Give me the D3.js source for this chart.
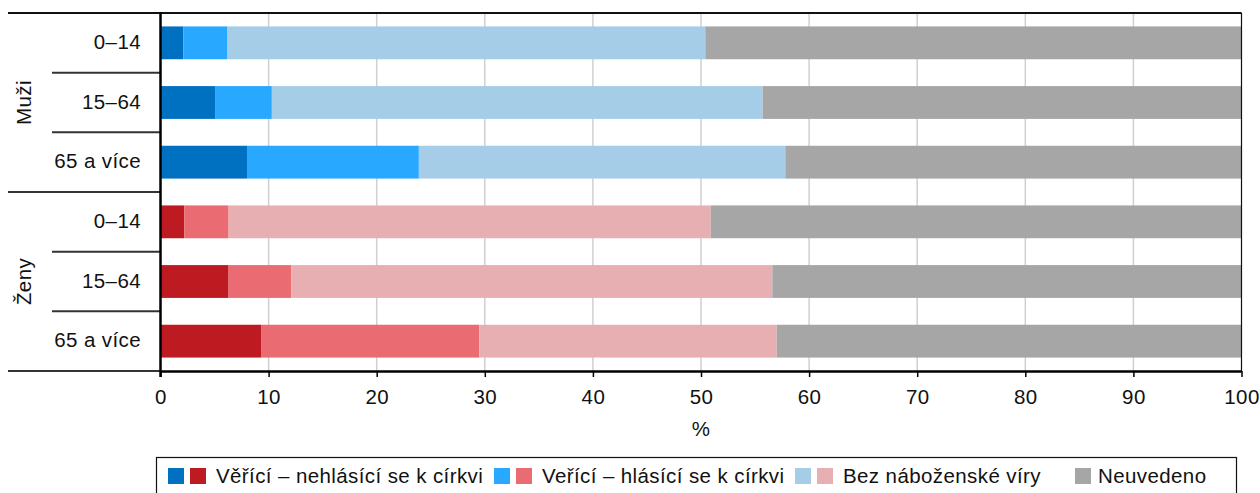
<!DOCTYPE html>
<html>
<head>
<meta charset="utf-8">
<script src="https://cdn.jsdelivr.net/npm/d3@7"></script>
<style>
  body { margin: 0; background: #fff; }
  svg { display: block; font-family: 'Liberation Sans', Arial, sans-serif; }
  svg text { letter-spacing: 0.4px; }
</style>
</head>
<body>
<div id="chart"></div>
<script>
// values (percent)
const groups = ['Muži', 'Ženy'];
const ages = ['0–14', '15–64', '65 a více'];
const vericiNehlasici = [2.1, 5.1, 8.0, 2.2, 6.3, 9.3];
const vericiHlasici = [4.1, 5.2, 15.9, 4.1, 5.8, 20.2];
const bezViry = [44.2, 45.4, 33.9, 44.6, 44.5, 27.5];
const neuvedeno = [49.6, 44.3, 42.2, 49.1, 43.4, 43.0];
const xTicks = [0, 10, 20, 30, 40, 50, 60, 70, 80, 90, 100];

const legendLabels = ['Věřící – nehlásící se k církvi', 'Veřící – hlásící se k církvi', 'Bez náboženské víry', 'Neuvedeno'];
const colorsMen = ['#0070C0', '#29A8FF', '#A6CDE8', '#A6A6A6'];
const colorsWomen = ['#BE1A22', '#EB6B72', '#E8AFB2', '#A6A6A6'];

const keys = ['a', 'b', 'c', 'd'];
const rows = [];
groups.forEach((g, gi) => {
  ages.forEach((a, ai) => {
    const i = gi * 3 + ai;
    rows.push({ id: g + '|' + a, group: g, age: a,
      a: vericiNehlasici[i], b: vericiHlasici[i], c: bezViry[i], d: neuvedeno[i] });
  });
});

const width = 1260, height = 493;
const plotLeft = 160.5, plotRight = 1241.5, plotTop = 13, plotBottom = 371;
const fs = 20.5;

const svg = d3.select('#chart').append('svg')
  .attr('width', width).attr('height', height);

const x = d3.scaleLinear().domain([0, 100]).range([plotLeft, plotRight]);
const y = d3.scaleBand().domain(rows.map(d => d.id)).range([plotTop, plotBottom]).paddingInner(0.45).paddingOuter(0.225);
const step = y.step();

// grid
svg.append('g').selectAll('line')
  .data(xTicks.filter(t => t > 0 && t < 100))
  .enter().append('line')
  .attr('x1', d => x(d)).attr('x2', d => x(d))
  .attr('y1', plotTop).attr('y2', plotBottom)
  .attr('stroke', '#D0D0D0').attr('stroke-width', 1.5);

// bars
const stack = d3.stack().keys(keys)(rows);
svg.append('g').selectAll('g')
  .data(stack)
  .enter().append('g')
  .selectAll('rect')
  .data((s, si) => s.map(p => ({ p, si })))
  .enter().append('rect')
  .attr('x', d => x(d.p[0]))
  .attr('width', d => x(d.p[1]) - x(d.p[0]))
  .attr('y', d => y(d.p.data.id))
  .attr('height', y.bandwidth())
  .attr('fill', d => (d.p.data.group === 'Muži' ? colorsMen : colorsWomen)[d.si]);

// frame: top and right
svg.append('line').attr('x1', 8).attr('x2', plotRight).attr('y1', plotTop).attr('y2', plotTop)
  .attr('stroke', '#111').attr('stroke-width', 2);
svg.append('line').attr('x1', plotRight).attr('x2', plotRight).attr('y1', plotTop).attr('y2', plotBottom)
  .attr('stroke', '#111').attr('stroke-width', 1.2);

// separators on the left
rows.forEach((d, i) => {
  if (i === 0) return;
  const yy = plotTop + i * step;
  svg.append('line')
    .attr('x1', i % 3 === 0 ? 8 : 52).attr('x2', plotLeft)
    .attr('y1', yy).attr('y2', yy)
    .attr('stroke', '#333').attr('stroke-width', 2);
});
svg.append('line').attr('x1', 8).attr('x2', plotLeft).attr('y1', plotBottom).attr('y2', plotBottom)
  .attr('stroke', '#333').attr('stroke-width', 2);

// category labels
svg.append('g').selectAll('text')
  .data(rows).enter().append('text')
  .attr('x', 141)
  .attr('y', d => y(d.id) + y.bandwidth() / 2)
  .attr('dy', '0.3em')
  .attr('text-anchor', 'end')
  .attr('font-size', fs)
  .attr('fill', '#111')
  .text(d => d.age);

// group labels
groups.forEach((g, gi) => {
  const cy = plotTop + (gi * 3 + 1.5) * step;
  svg.append('text')
    .attr('transform', `translate(31,${cy}) rotate(-90)`)
    .attr('text-anchor', 'middle')
    .attr('font-size', fs)
    .attr('fill', '#111')
    .text(g);
});

// x axis
const xAxis = svg.append('g')
  .attr('transform', `translate(0,${plotBottom})`)
  .call(d3.axisBottom(x).tickValues(xTicks).tickSize(6).tickPadding(12).tickSizeOuter(0));
xAxis.select('.domain').attr('stroke', '#000').attr('stroke-width', 2.5);
xAxis.selectAll('.tick line').attr('stroke', '#000').attr('stroke-width', 1.5);
xAxis.selectAll('.tick text').attr('font-size', fs).attr('fill', '#111')
  .attr('font-family', "'Liberation Sans', Arial, sans-serif");

// left axis line
svg.append('line').attr('x1', plotLeft).attr('x2', plotLeft).attr('y1', plotTop - 1).attr('y2', plotBottom + 6)
  .attr('stroke', '#000').attr('stroke-width', 2.5);

svg.append('text')
  .attr('x', x(50)).attr('y', 436)
  .attr('text-anchor', 'middle')
  .attr('font-size', fs).attr('fill', '#111')
  .text('%');

// legend
svg.append('rect')
  .attr('x', 156.5).attr('y', 457.5)
  .attr('width', 1080).attr('height', 60)
  .attr('fill', 'none').attr('stroke', '#111').attr('stroke-width', 1.2);

const legendX = [168, 494, 795, 1075];
const legend = svg.append('g').selectAll('g')
  .data(legendLabels).enter().append('g')
  .attr('transform', (d, i) => `translate(${legendX[i]},468)`);
legend.each(function (d, i) {
  const g = d3.select(this);
  let off = 0;
  if (i < 3) {
    g.append('rect').attr('x', 0).attr('y', 0).attr('width', 16).attr('height', 16).attr('fill', colorsMen[i]);
    g.append('rect').attr('x', 22).attr('y', 0).attr('width', 16).attr('height', 16).attr('fill', colorsWomen[i]);
    off = 48;
  } else {
    g.append('rect').attr('x', 0).attr('y', 0).attr('width', 16).attr('height', 16).attr('fill', colorsMen[i]);
    off = 23;
  }
  g.append('text')
    .attr('x', off).attr('y', 8).attr('dy', '0.35em')
    .attr('font-size', fs).attr('fill', '#111')
    .text(d);
});
</script>
</body>
</html>
